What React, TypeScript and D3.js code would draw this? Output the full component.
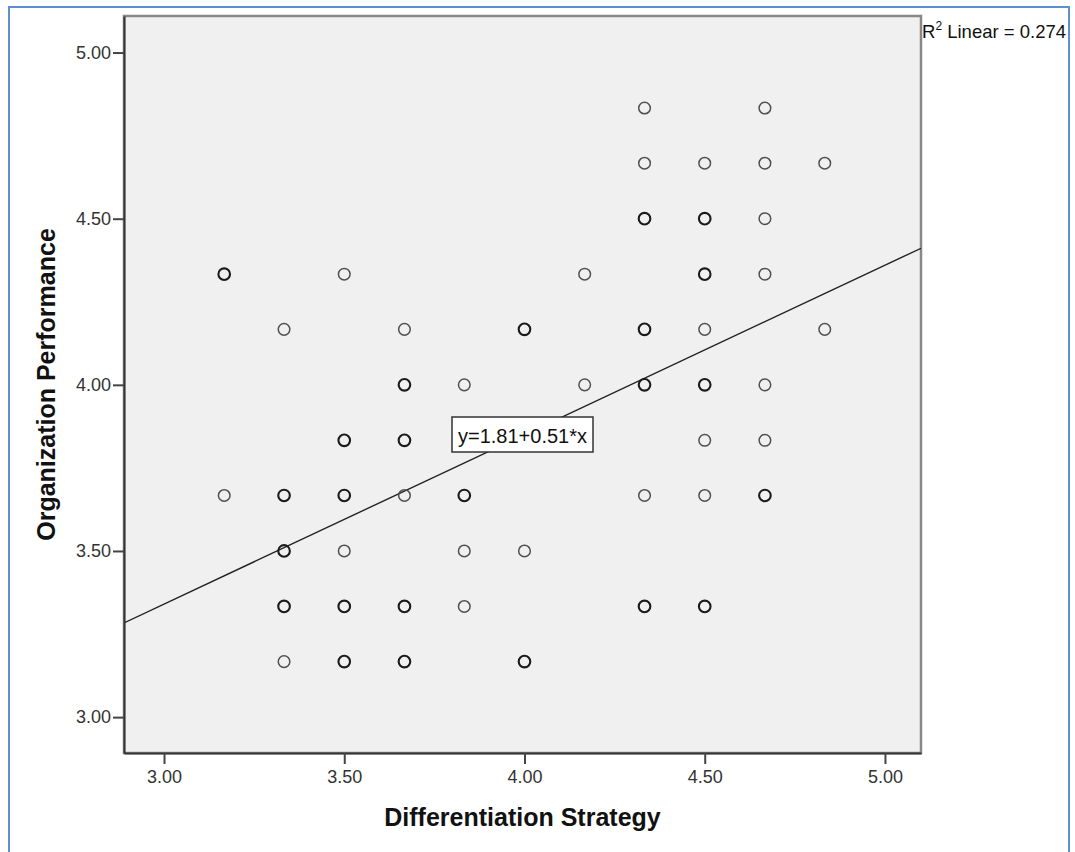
import React, { useEffect, useRef } from 'react';
import * as d3 from 'd3';

// Differentiation Strategy (x), Organization Performance (y), and how many cases sit on the same spot
const diffStrategy = [
  3.167, 3.167,
  3.333, 3.333, 3.333, 3.333, 3.333,
  3.5, 3.5, 3.5, 3.5, 3.5, 3.5,
  3.667, 3.667, 3.667, 3.667, 3.667, 3.667,
  3.833, 3.833, 3.833, 3.833,
  4.0, 4.0, 4.0,
  4.167, 4.167,
  4.333, 4.333, 4.333, 4.333, 4.333, 4.333, 4.333,
  4.5, 4.5, 4.5, 4.5, 4.5, 4.5, 4.5, 4.5,
  4.667, 4.667, 4.667, 4.667, 4.667, 4.667, 4.667,
  4.833, 4.833,
];
const orgPerformance = [
  4.333, 3.667,
  4.167, 3.667, 3.5, 3.333, 3.167,
  4.333, 3.833, 3.667, 3.5, 3.333, 3.167,
  4.167, 4.0, 3.833, 3.667, 3.333, 3.167,
  4.0, 3.667, 3.5, 3.333,
  4.167, 3.5, 3.167,
  4.333, 4.0,
  4.833, 4.667, 4.5, 4.167, 4.0, 3.667, 3.333,
  4.667, 4.5, 4.333, 4.167, 4.0, 3.833, 3.667, 3.333,
  4.833, 4.667, 4.5, 4.333, 4.0, 3.833, 3.667,
  4.667, 4.167,
];
const overlap = [
  2, 1,
  1, 2, 2, 2, 1,
  1, 2, 2, 1, 2, 2,
  1, 2, 2, 1, 2, 2,
  1, 2, 1, 1,
  2, 1, 2,
  1, 1,
  1, 1, 2, 2, 2, 1, 2,
  1, 2, 2, 1, 2, 1, 1, 2,
  1, 1, 1, 1, 1, 1, 2,
  1, 1,
];

const xTicks = [3.0, 3.5, 4.0, 4.5, 5.0];
const yTicks = [3.0, 3.5, 4.0, 4.5, 5.0];
const intercept = 1.81;
const slope = 0.51;
const rSquared = 0.274;

const App = () => {
  const chartRef = useRef(null);

  useEffect(() => {
    if (!chartRef.current) return;
    d3.select(chartRef.current).selectAll('*').remove();

    const W = 1075;
    const H = 852;
    const plot = { left: 124, right: 921, top: 16, bottom: 753 };
    const font = '"Liberation Sans", Arial, sans-serif';

    const svg = d3.select(chartRef.current)
      .append('svg')
      .attr('width', W)
      .attr('height', H)
      .style('position', 'absolute')
      .style('left', '0px')
      .style('top', '0px')
      .style('font-family', font);

    svg.append('rect').attr('width', W).attr('height', H).attr('fill', '#fff');

    // outer blue frame (open at the bottom)
    svg.append('path')
      .attr('d', `M9,${H} L9,7 L1069,7 L1069,${H}`)
      .attr('fill', 'none')
      .attr('stroke', '#5f8fd3')
      .attr('stroke-width', 2);

    const x = d3.scaleLinear().domain([2.889, 5.1]).range([plot.left, plot.right]);
    const y = d3.scaleLinear().domain([2.892, 5.11]).range([plot.bottom, plot.top]);

    svg.append('rect')
      .attr('x', plot.left)
      .attr('y', plot.top)
      .attr('width', plot.right - plot.left)
      .attr('height', plot.bottom - plot.top)
      .attr('fill', '#f0f0f0')
      .attr('stroke', '#888')
      .attr('stroke-width', 2.5);

    // fit line, clipped to the plot area
    svg.append('clipPath').attr('id', 'plotclip')
      .append('rect')
      .attr('x', plot.left).attr('y', plot.top)
      .attr('width', plot.right - plot.left).attr('height', plot.bottom - plot.top);

    const [x0, x1] = x.domain();
    svg.append('path')
      .datum([x0, x1])
      .attr('clip-path', 'url(#plotclip)')
      .attr('fill', 'none')
      .attr('stroke', '#222')
      .attr('stroke-width', 1.4)
      .attr('d', d3.line<number>().x((d) => x(d)).y((d) => y(intercept + slope * d)));

    // points
    svg.append('g')
      .selectAll('circle')
      .data(diffStrategy.map((d, i) => ({ x: d, y: orgPerformance[i], n: overlap[i] })))
      .join('circle')
      .attr('cx', (d) => x(d.x))
      .attr('cy', (d) => y(d.y))
      .attr('r', 5.8)
      .attr('fill', 'none')
      .attr('stroke', (d) => (d.n > 1 ? '#1a1a1a' : '#505050'))
      .attr('stroke-width', (d) => (d.n > 1 ? 2.1 : 1.5));

    // axes
    const fmt = d3.format('.2f');
    const xAxis = svg.append('g').attr('transform', `translate(0,${plot.bottom})`);
    xAxis.call(d3.axisBottom(x).tickValues(xTicks).tickSize(11).tickSizeOuter(0).tickFormat((d) => fmt(d as number)));
    const yAxis = svg.append('g').attr('transform', `translate(${plot.left},0)`);
    yAxis.call(d3.axisLeft(y).tickValues(yTicks).tickSize(11).tickSizeOuter(0).tickFormat((d) => fmt(d as number)));

    [xAxis, yAxis].forEach((g) => {
      g.attr('font-size', 18).attr('font-family', font);
      g.select('.domain').attr('stroke', '#333').attr('stroke-width', 2);
      g.selectAll('.tick line').attr('stroke', '#444').attr('stroke-width', 2);
      g.selectAll('.tick text').attr('fill', '#333');
    });
    xAxis.selectAll('.tick text').attr('dy', 0).attr('y', 30);
    yAxis.selectAll('.tick text').attr('x', -13);

    // axis titles
    svg.append('text')
      .attr('x', (plot.left + plot.right) / 2)
      .attr('y', 826)
      .attr('text-anchor', 'middle')
      .attr('font-weight', 'bold')
      .attr('font-size', 25)
      .attr('fill', '#111')
      .text('Differentiation Strategy');

    svg.append('text')
      .attr('transform', `translate(55,${(plot.top + plot.bottom) / 2}) rotate(-90)`)
      .attr('text-anchor', 'middle')
      .attr('font-weight', 'bold')
      .attr('font-size', 25)
      .attr('fill', '#111')
      .text('Organization Performance');

    // equation label
    const eq = svg.append('g');
    eq.append('rect')
      .attr('x', 452).attr('y', 417)
      .attr('width', 141).attr('height', 35)
      .attr('fill', '#fff')
      .attr('stroke', '#333')
      .attr('stroke-width', 1.5);
    eq.append('text')
      .attr('x', 522.5).attr('y', 443)
      .attr('text-anchor', 'middle')
      .attr('font-size', 20)
      .attr('fill', '#111')
      .text(`y=${intercept}+${slope}*x`);

    // R² label
    const r2 = svg.append('text')
      .attr('x', plot.right + 1)
      .attr('y', 38)
      .attr('font-size', 18.5)
      .attr('fill', '#111');
    r2.append('tspan').text('R');
    r2.append('tspan').attr('dy', -8).attr('font-size', 12).text('2');
    r2.append('tspan').attr('dy', 8).text(` Linear = ${rSquared}`);
  }, []);

  return <div ref={chartRef}></div>;
};

export default App;
